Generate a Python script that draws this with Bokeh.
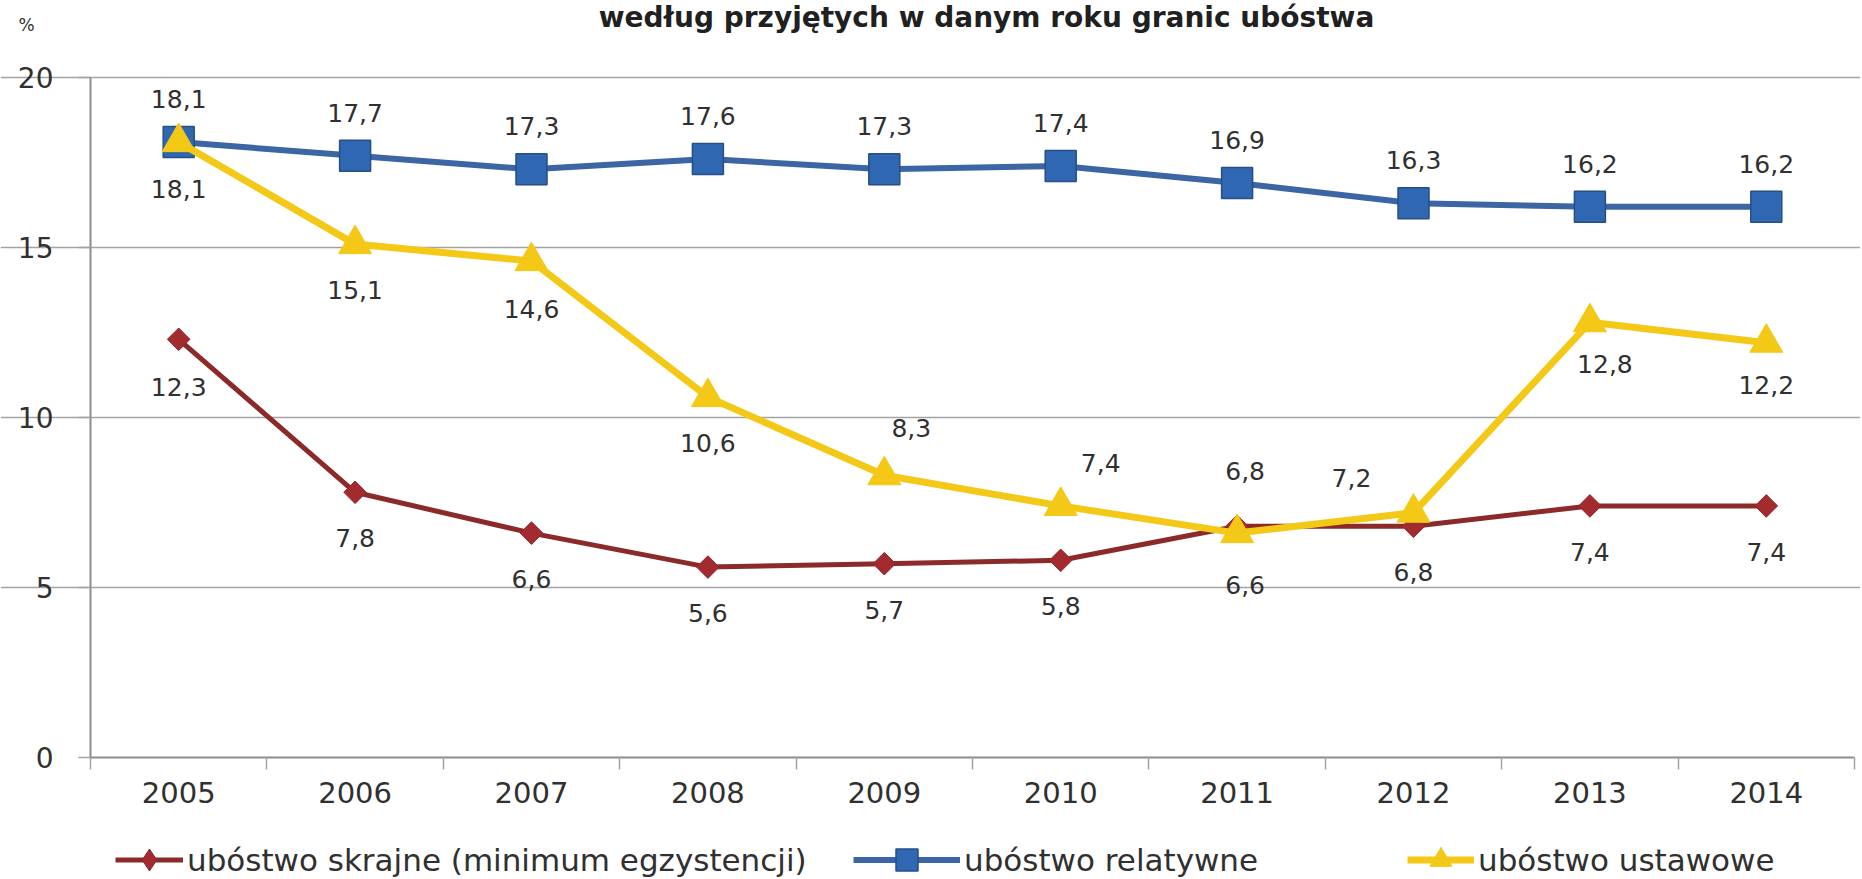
import numpy as np
from bokeh.plotting import figure
from bokeh.models import FixedTicker, Legend, LegendItem, Label, ColumnDataSource
from bokeh.embed import file_html
from bokeh.resources import INLINE
from bokeh.core.properties import value

# ---------------- data ----------------
years = [2005, 2006, 2007, 2008, 2009, 2010, 2011, 2012, 2013, 2014]
year_labels = ["2005", "2006", "2007", "2008", "2009", "2010", "2011", "2012", "2013", "2014"]
skrajne = [12.3, 7.8, 6.6, 5.6, 5.7, 5.8, 6.8, 6.8, 7.4, 7.4]
relatywne = [18.1, 17.7, 17.3, 17.6, 17.3, 17.4, 16.9, 16.3, 16.2, 16.2]
ustawowe = [18.1, 15.1, 14.6, 10.6, 8.3, 7.4, 6.6, 7.2, 12.8, 12.2]
y_ticks = [0, 5, 10, 15, 20]
series_names = ["ubóstwo skrajne (minimum egzystencji)", "ubóstwo relatywne", "ubóstwo ustawowe"]
title_text = "według przyjętych w danym roku granic ubóstwa"
unit_text = "%"

# label placement (screen px offsets, positive = down)
skrajne_off = [(0, 48), (0, 46), (0, 46), (0, 46), (0, 46), (0, 46), (8, -55), (0, 46), (0, 46), (0, 46)]
relatywne_off = [(0, -43)] * 10
ustawowe_off = [(0, 47), (0, 46), (0, 48), (0, 46), (27, -47), (40, -43), (8, 52), (-62, -35), (15, 42), (0, 42)]

# ---------------- layout (pixels) ----------------
W, H = 1860, 877
AX_L, AX_R, AX_T, AX_B = 90, 1854, 77, 757        # plot-area edges on the canvas
X0, X1, Y0, Y1 = 2004.5, 2014.5, 0.0, 20.0
xs = (AX_R - AX_L) / (X1 - X0)
ys = (AX_B - AX_T) / (Y1 - Y0)
x_rng = (X0 - AX_L / xs, X1 + (W - AX_R) / xs)
y_rng = (Y0 - (H - AX_B) / ys, Y1 + AX_T / ys)

FONT = "DejaVu Sans"
RED_LINE, RED_MK = "#8C2A2A", "#A32A2E"
BLUE_LINE, BLUE_MK, BLUE_EDGE = "#3C65A3", "#2F67B2", "#264F85"
YEL = "#F4C817"
TXT = "#303030"
GRID = "#a3a3a3"
AXC = "#8c8c8c"

p = figure(width=W, height=H, x_range=x_rng, y_range=y_rng,
           output_backend="svg", toolbar_location=None, min_border=0)
p.outline_line_color = None
p.background_fill_color = "white"
p.xgrid.visible = False
p.ygrid.ticker = FixedTicker(ticks=y_ticks[1:])
p.ygrid.bounds = (X0, X1)
p.ygrid.grid_line_color = GRID
p.ygrid.grid_line_width = 1.5

# y axis
p.yaxis.fixed_location = X0
p.yaxis.bounds = (Y0, Y1)
p.yaxis.ticker = FixedTicker(ticks=y_ticks)
p.yaxis.major_label_text_font = FONT
p.yaxis.major_label_text_font_size = "28px"
p.yaxis.major_label_text_color = TXT
p.yaxis.major_tick_out = 12
p.yaxis.major_tick_in = 0
p.yaxis.minor_tick_line_color = None
p.yaxis.major_tick_line_color = GRID
p.yaxis.major_tick_line_width = 1.5
p.yaxis.axis_line_color = AXC
p.yaxis.axis_line_width = 2
p.yaxis.major_label_standoff = 25

# x axis: labels at year centres, tick marks between categories
bounds = [y - 0.5 for y in years] + [years[-1] + 0.5]
p.xaxis.fixed_location = Y0
p.xaxis.bounds = (X0, X1)
p.xaxis.ticker = FixedTicker(ticks=years, minor_ticks=bounds)
p.xaxis.major_label_overrides = {y: l for y, l in zip(years, year_labels)}
p.xaxis.major_label_text_font = FONT
p.xaxis.major_label_text_font_size = "29px"
p.xaxis.major_label_text_color = TXT
p.xaxis.major_tick_out = 0
p.xaxis.major_tick_in = 0
p.xaxis.major_tick_line_color = None
p.xaxis.minor_tick_out = 12
p.xaxis.minor_tick_in = 0
p.xaxis.minor_tick_line_color = GRID
p.xaxis.minor_tick_line_width = 1.5
p.xaxis.axis_line_color = AXC
p.xaxis.axis_line_width = 2
p.xaxis.major_label_standoff = 12

# series
r_l = p.line(years, skrajne, line_color=RED_LINE, line_width=5)
# plain diamond (hidden beneath the rotated squares) gives the legend its diamond symbol
r_leg = p.scatter(years, skrajne, marker="diamond", size=20,
                  fill_color=RED_MK, line_color=RED_LINE)
r_m = p.scatter(years, skrajne, marker="square", angle=np.pi / 4, size=16,
                fill_color=RED_MK, line_color=RED_LINE)
b_l = p.line(years, relatywne, line_color=BLUE_LINE, line_width=6)
b_m = p.scatter(years, relatywne, marker="square", size=31,
                fill_color=BLUE_MK, line_color=BLUE_EDGE, line_width=1.5)
y_l = p.line(years, ustawowe, line_color=YEL, line_width=7)
y_m = p.scatter(years, ustawowe, marker="triangle", size=33,
                fill_color=YEL, line_color=YEL)


def fmt(v):
    return f"{v:.1f}".replace(".", ",")


for vals, offs in [(skrajne, skrajne_off), (relatywne, relatywne_off), (ustawowe, ustawowe_off)]:
    src = ColumnDataSource(dict(x=years, y=vals, t=[fmt(v) for v in vals],
                                dx=[o[0] for o in offs], dy=[o[1] for o in offs]))
    p.text(x="x", y="y", text="t", x_offset="dx", y_offset="dy", source=src,
           text_align="center", text_baseline="middle",
           text_font=value(FONT), text_font_size="25px", text_color=TXT)

# legend: one entry per box so each sits where the source puts it
legend_specs = [
    (series_names[0], [r_l, r_leg], 115, 68),
    (series_names[1], [b_l, b_m], 853, 107),
    (series_names[2], [y_l, y_m], 1407, 67),
]
for name, rends, lx, gw in legend_specs:
    lg = Legend(items=[LegendItem(label=name, renderers=rends)],
                orientation="horizontal", location=(lx, -10))
    lg.label_text_font = FONT
    lg.label_text_font_size = "31px"
    lg.label_text_color = TXT
    lg.glyph_width = gw
    lg.glyph_height = 55
    lg.label_height = 55
    lg.label_standoff = 4
    lg.padding = 0
    lg.margin = 0
    lg.border_line_color = None
    lg.background_fill_alpha = 0
    p.add_layout(lg)

# title (only partly visible in the source) and unit label
p.add_layout(Label(x=X0 + (986 - AX_L) / xs, y=y_rng[1], text=title_text,
                   text_align="center", text_baseline="top",
                   text_font=FONT, text_font_size="28px", text_font_style="bold", text_color="#202020"))
p.add_layout(Label(x=X0 + (26 - AX_L) / xs, y=Y1 + (AX_T - 24) / ys, text=unit_text,
                   text_align="center", text_baseline="middle",
                   text_font=FONT, text_font_size="17px", text_color=TXT))

open("out.html", "w").write(file_html(p, INLINE))
